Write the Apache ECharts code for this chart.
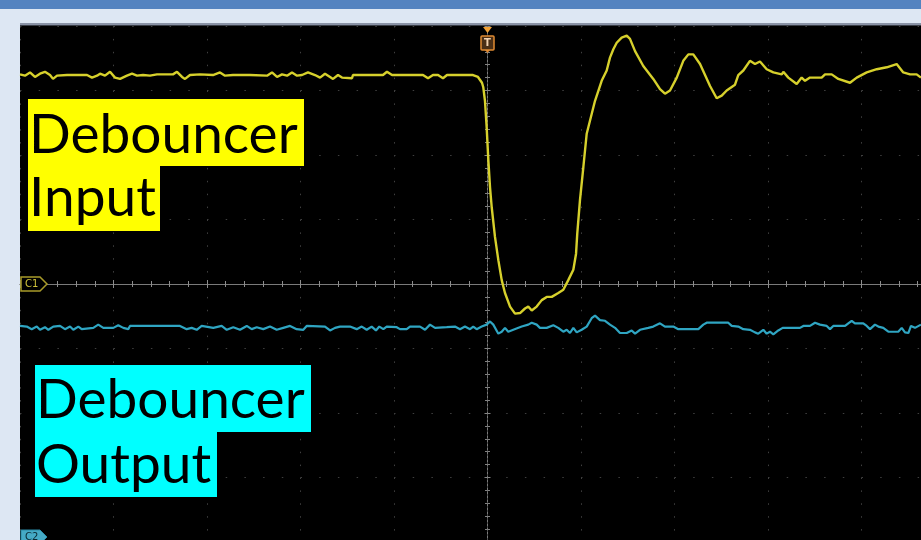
<!DOCTYPE html>
<html>
<head>
<meta charset="utf-8">
<script src="https://cdn.jsdelivr.net/npm/echarts@6/dist/echarts.min.js"></script>
<style>
html,body{margin:0;padding:0;background:#dde7f3;}
#c{width:921px;height:540px;}
</style>
</head>
<body>
<div id="c"></div>
<script>
// Time in horizontal divisions, amplitude in vertical divisions
const inputTime = [-5.000,-4.947,-4.893,-4.840,-4.786,-4.733,-4.679,-4.647,-4.604,-4.497,
-4.283,-4.230,-4.176,-4.144,-4.091,-4.037,-3.984,-3.930,-3.856,-3.802,
-3.749,-3.684,-3.610,-3.535,-3.364,-3.321,-3.267,-3.235,-3.182,-3.075,
-2.936,-2.861,-2.807,-2.722,-2.540,-2.358,-2.305,-2.251,-2.198,-2.144,
-2.091,-2.037,-1.984,-1.920,-1.845,-1.791,-1.738,-1.684,-1.652,-1.599,
-1.556,-1.449,-1.439,-1.118,-1.075,-1.021,-0.690,-0.636,-0.583,-0.529,
-0.476,-0.433,-0.155,-0.102,-0.059,-0.045,-0.027,-0.009,0.009,0.027,
0.045,0.080,0.116,0.152,0.187,0.241,0.294,0.348,0.401,0.436,
0.473,0.526,0.580,0.633,0.687,0.757,0.811,0.864,0.918,0.947,
0.960,0.989,1.025,1.061,1.096,1.150,1.221,1.275,1.310,1.346,
1.382,1.435,1.489,1.524,1.578,1.666,1.773,1.845,1.898,1.952,
2.024,2.094,2.148,2.201,2.273,2.380,2.451,2.505,2.558,2.647,
2.682,2.736,2.807,2.861,2.914,2.986,3.057,3.147,3.164,3.217,
3.307,3.360,3.396,3.449,3.574,3.610,3.681,3.752,3.877,3.949,
4.056,4.163,4.270,4.376,4.447,4.519,4.590,4.636];
const inputLevel = [3.25,3.23,3.28,3.21,3.26,3.29,3.24,3.18,3.23,3.24,
3.24,3.20,3.23,3.26,3.23,3.29,3.20,3.18,3.23,3.26,
3.23,3.24,3.23,3.25,3.25,3.29,3.21,3.18,3.24,3.25,
3.24,3.28,3.23,3.24,3.24,3.23,3.28,3.21,3.25,3.23,
3.28,3.23,3.24,3.28,3.24,3.20,3.26,3.21,3.18,3.24,
3.20,3.19,3.24,3.24,3.29,3.24,3.24,3.19,3.24,3.24,
3.19,3.24,3.24,3.21,3.12,3.05,2.84,2.43,1.92,1.50,
1.19,0.73,0.37,0.06,-0.14,-0.35,-0.46,-0.45,-0.38,-0.35,
-0.41,-0.35,-0.25,-0.20,-0.20,-0.14,-0.09,0.06,0.22,0.47,
0.78,1.30,1.81,2.33,2.53,2.84,3.15,3.31,3.51,3.64,
3.74,3.82,3.85,3.80,3.61,3.38,3.18,3.02,2.95,3.00,
3.20,3.46,3.56,3.56,3.41,3.07,2.88,2.92,3.00,3.09,
3.24,3.31,3.46,3.41,3.45,3.33,3.28,3.25,3.29,3.20,
3.10,3.20,3.15,3.20,3.20,3.25,3.25,3.18,3.12,3.20,
3.28,3.33,3.36,3.41,3.28,3.25,3.25,3.20];

const outputTime = [-5.000,-4.928,-4.875,-4.821,-4.786,-4.733,-4.697,-4.644,-4.572,-4.519,
-4.465,-4.430,-4.376,-4.340,-4.216,-4.163,-4.109,-4.002,-3.949,-3.895,
-3.842,-3.824,-3.289,-3.217,-3.164,-3.110,-3.057,-2.933,-2.843,-2.789,
-2.719,-2.647,-2.575,-2.522,-2.468,-2.398,-2.326,-2.255,-2.184,-2.112,
-2.041,-1.970,-1.934,-1.738,-1.684,-1.631,-1.578,-1.471,-1.399,-1.345,
-1.292,-1.239,-1.193,-1.157,-1.114,-1.078,-0.971,-0.936,-0.864,-0.829,
-0.722,-0.668,-0.615,-0.561,-0.436,-0.348,-0.294,-0.241,-0.187,-0.152,
-0.116,-0.062,-0.009,0.027,0.062,0.116,0.152,0.187,0.222,0.276,
0.366,0.436,0.473,0.526,0.561,0.633,0.704,0.757,0.811,0.847,
0.882,0.918,0.954,1.007,1.061,1.114,1.150,1.203,1.257,1.310,
1.364,1.417,1.489,1.542,1.578,1.631,1.720,1.773,1.845,1.898,
1.987,2.041,2.131,2.255,2.308,2.344,2.575,2.612,2.682,2.736,
2.807,2.861,2.896,2.950,2.986,3.021,3.057,3.110,3.157,3.342,
3.378,3.449,3.503,3.556,3.628,3.663,3.698,3.824,3.859,3.895,
3.930,4.019,4.056,4.091,4.144,4.180,4.233,4.287,4.393,4.430,
4.465,4.501,4.529,4.572,4.636];
const outputLevel = [-0.65,-0.66,-0.70,-0.66,-0.71,-0.67,-0.71,-0.66,-0.65,-0.70,
-0.66,-0.71,-0.66,-0.70,-0.68,-0.63,-0.68,-0.68,-0.64,-0.68,
-0.70,-0.65,-0.65,-0.70,-0.68,-0.71,-0.65,-0.68,-0.65,-0.71,
-0.67,-0.71,-0.65,-0.70,-0.67,-0.70,-0.66,-0.71,-0.68,-0.65,
-0.70,-0.71,-0.65,-0.66,-0.72,-0.68,-0.66,-0.66,-0.70,-0.66,
-0.71,-0.66,-0.72,-0.66,-0.70,-0.66,-0.67,-0.70,-0.70,-0.66,
-0.66,-0.71,-0.63,-0.68,-0.67,-0.66,-0.70,-0.66,-0.70,-0.66,
-0.70,-0.66,-0.63,-0.58,-0.63,-0.77,-0.74,-0.68,-0.74,-0.71,
-0.66,-0.63,-0.60,-0.63,-0.68,-0.68,-0.64,-0.68,-0.74,-0.71,
-0.76,-0.68,-0.75,-0.71,-0.66,-0.53,-0.49,-0.56,-0.57,-0.63,
-0.68,-0.76,-0.76,-0.72,-0.77,-0.71,-0.68,-0.66,-0.61,-0.66,
-0.66,-0.70,-0.70,-0.70,-0.63,-0.60,-0.60,-0.65,-0.66,-0.70,
-0.71,-0.75,-0.77,-0.71,-0.77,-0.74,-0.78,-0.72,-0.68,-0.68,
-0.65,-0.65,-0.60,-0.63,-0.65,-0.70,-0.65,-0.65,-0.61,-0.57,
-0.61,-0.61,-0.65,-0.70,-0.63,-0.66,-0.68,-0.74,-0.74,-0.68,
-0.75,-0.76,-0.65,-0.68,-0.63];

const timeRange = [-5, 5];
const levelRange = [-4, 4];
const labelInput = ['Debouncer', 'Input'];
const labelOutput = ['Debouncer', 'Output'];

const zip = (a, b) => a.map((v, i) => [v, b[i]]);

const chart = echarts.init(document.getElementById('c'), null, {renderer: 'canvas'});

const gridDot = '#3f3f3f';
const centreCol = '#7a7a7a';

function xAxisDef(pos, main) {
  return {
    type: 'value', min: timeRange[0], max: timeRange[1], interval: 1, position: pos,
    axisLine: {show: true, onZero: true, lineStyle: {color: centreCol, width: 1}},
    axisTick: {show: true, length: 4, lineStyle: {color: '#8c8c8c'}},
    minorTick: {show: true, splitNumber: 5, length: 3, lineStyle: {color: '#8c8c8c'}},
    axisLabel: {show: false},
    splitLine: {show: main, lineStyle: {color: gridDot, width: 1, type: [1.5, 11.4]}},
    minorSplitLine: {show: false}
  };
}
function yAxisDef(pos, main) {
  return {
    type: 'value', min: levelRange[0], max: levelRange[1], interval: 1, position: pos,
    axisLine: {show: true, onZero: true, lineStyle: {color: centreCol, width: 1, type: [2, 2]}},
    axisTick: {show: true, length: 3, lineStyle: {color: '#858585'}},
    minorTick: {show: true, splitNumber: 5, length: 2.5, lineStyle: {color: '#808080'}},
    axisLabel: {show: false},
    splitLine: {show: main, lineStyle: {color: gridDot, width: 1, type: [1.5, 17.2]}},
    minorSplitLine: {show: false}
  };
}

chart.setOption({
  animation: false,
  backgroundColor: '#dde7f3',
  grid: {left: 20, top: 26, width: 935, height: 516, show: true, backgroundColor: '#000000',
         borderWidth: 0, containLabel: false, outerBoundsMode: 'none'},
  xAxis: [xAxisDef('bottom', true), xAxisDef('top', false)],
  yAxis: [yAxisDef('left', true), yAxisDef('right', false)],
  series: [
    {name: 'Debouncer Input', type: 'line', xAxisIndex: 0, yAxisIndex: 0,
     data: zip(inputTime, inputLevel), symbol: 'none', smooth: false, z: 4,
     lineStyle: {color: '#d6d02c', width: 2.4}},
    {name: 'Debouncer Output', type: 'line', xAxisIndex: 0, yAxisIndex: 0,
     data: zip(outputTime, outputLevel), symbol: 'none', smooth: false, z: 4,
     lineStyle: {color: '#2fa5c2', width: 2.2}}
  ]
});

const xT = chart.convertToPixel({xAxisIndex: 0}, 0);
const yC1 = chart.convertToPixel({yAxisIndex: 0}, 0);
const font = '55px Lato, "Noto Sans", sans-serif';

function labelLine(text, x, y, boxX, boxY, boxW, boxH, bg) {
  return [
    {type: 'rect', z: 100, shape: {x: boxX, y: boxY, width: boxW, height: boxH}, style: {fill: bg}},
    {type: 'text', z: 101, style: {text: text, x: x, y: y, font: font, fill: '#000000', textAlign: 'left', textVerticalAlign: 'middle'}}
  ];
}

chart.setOption({
  graphic: [
    {type: 'rect', z: 100, shape: {x: 0, y: 0, width: 921, height: 9}, style: {fill: '#5383c0'}},
    {type: 'rect', z: 100, shape: {x: 20, y: 23, width: 901, height: 2}, style: {fill: '#8a93a6'}},
    {type: 'rect', z: 100, shape: {x: 20, y: 25, width: 901, height: 1}, style: {fill: '#3a3f48'}},
    // trigger marker
    {type: 'polygon', z: 102, shape: {points: [[xT - 4.5, 27], [xT + 4.5, 27], [xT, 33]]}, style: {fill: '#f0a035'}},
    {type: 'rect', z: 102, shape: {x: xT - 6.5, y: 36, width: 13, height: 14, r: 1}, style: {fill: '#4a2f16', stroke: '#e08a32', lineWidth: 1.5}},
    {type: 'polygon', z: 102, shape: {points: [[xT - 2.5, 50], [xT + 2.5, 50], [xT, 53]]}, style: {fill: '#e08a32'}},
    {type: 'text', z: 103, style: {text: 'T', x: xT, y: 43.5, font: 'bold 10px "DejaVu Sans", sans-serif', fill: '#f2d2b0', textAlign: 'center', textVerticalAlign: 'middle'}},
    // C1 marker
    {type: 'polygon', z: 102, shape: {points: [[21, yC1 - 7], [40, yC1 - 7], [47, yC1], [40, yC1 + 7], [21, yC1 + 7]]}, style: {fill: '#000000', stroke: '#a89a2a', lineWidth: 1.5}},
    {type: 'text', z: 103, style: {text: 'C1', x: 25, y: yC1 + 0.5, font: '10px "DejaVu Sans", sans-serif', fill: '#cfc23a', textAlign: 'left', textVerticalAlign: 'middle'}},
    // C2 marker (partly off screen)
    {type: 'polygon', z: 102, shape: {points: [[21, 530], [40, 530], [47, 537], [40, 544], [21, 544]]}, style: {fill: '#45aac6', stroke: '#2a8aa6', lineWidth: 1}},
    {type: 'text', z: 103, style: {text: 'C2', x: 25, y: 537.5, font: '10px "DejaVu Sans", sans-serif', fill: '#0a2a34', textAlign: 'left', textVerticalAlign: 'middle'}}
  ]
    .concat(labelLine(labelInput[0], 29, 135, 28, 99, 276, 67, '#ffff00'))
    .concat(labelLine(labelInput[1], 29, 198.5, 28, 166, 132, 65, '#ffff00'))
    .concat(labelLine(labelOutput[0], 36, 400.5, 35, 365, 276, 67, '#00ffff'))
    .concat(labelLine(labelOutput[1], 36, 465, 35, 432, 182, 65, '#00ffff'))
});
</script>
</body>
</html>
